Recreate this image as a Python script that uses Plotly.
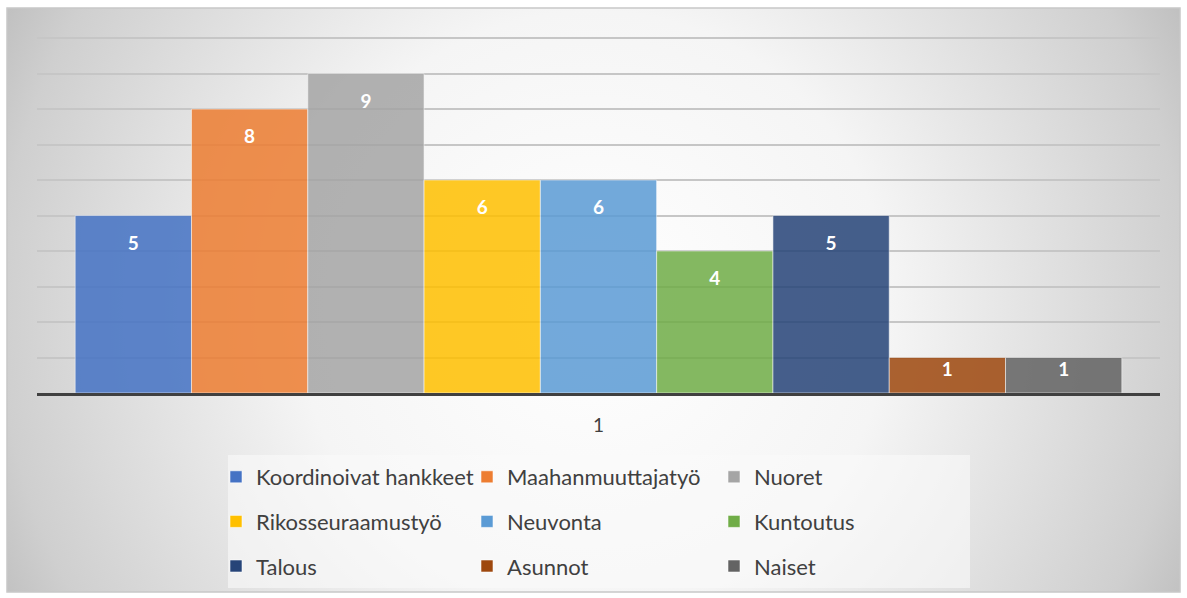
import plotly.graph_objects as go
import urllib.parse

# ---- data ----
category = ["1"]
series_names = ["Koordinoivat hankkeet", "Maahanmuuttajatyö", "Nuoret",
                "Rikosseuraamustyö", "Neuvonta", "Kuntoutus",
                "Talous", "Asunnot", "Naiset"]
series_values = [5, 8, 9, 6, 6, 4, 5, 1, 1]
series_colors = ["#4472C4", "#ED7D31", "#A5A5A5", "#FFC000", "#5B9BD5",
                 "#70AD47", "#264478", "#9E480E", "#636363"]
legend_columns = ["legend", "legend2", "legend3"]

W, H = 1187, 598
ML, MR, MT, MB = 37, 27, 36, 205
PW = W - ML - MR
PH = H - MT - MB
Y_MAX = 10.06

def px_x(x):
    return (x - ML) / PW

def px_y(y):
    return (H - MB - y) / PH

FONT = "Lato, 'Liberation Sans', Arial, sans-serif"
BARGAP = 0.068

fig = go.Figure()
for i, (name, val, col) in enumerate(zip(series_names, series_values, series_colors)):
    fig.add_trace(go.Bar(
        x=category, y=[val], name=name,
        marker=dict(color=col, opacity=0.85,
                    line=dict(color="rgba(255,255,255,0.55)", width=1)),
        legendgroup=name,
        legend=legend_columns[i % 3],
        hoverinfo="name+y",
    ))
for i, (name, val) in enumerate(zip(series_names, series_values)):
    fig.add_trace(go.Scatter(
        x=category, y=[val], mode="markers+text",
        text=[str(val)], textposition="bottom center",
        marker=dict(size=30 if val > 1 else 5, opacity=0, color="white"),
        textfont=dict(color="white", size=19, family=FONT, weight="bold"),
        showlegend=False, legendgroup=name, hoverinfo="skip",
        legend=legend_columns[i % 3],
    ))

# background radial gradient
svg = ('<svg xmlns="http://www.w3.org/2000/svg" width="1173" height="584" '
       'viewBox="0 0 1173 584" preserveAspectRatio="none"><defs>'
       '<radialGradient id="g" cx="586" cy="300" r="660" gradientUnits="userSpaceOnUse">'
       '<stop offset="0" stop-color="#ffffff"/>'
       '<stop offset="0.45" stop-color="#f5f5f5"/>'
       '<stop offset="0.9" stop-color="#cfcfcf"/>'
       '<stop offset="1" stop-color="#c0c0c0"/>'
       '</radialGradient></defs><rect width="1173" height="584" fill="url(#g)"/></svg>')
src = "data:image/svg+xml;charset=utf-8," + urllib.parse.quote(svg)

bx0, bx1, by0, by1 = 7, 1180, 8, 592
fig.add_layout_image(dict(
    source=src, xref="paper", yref="paper",
    x=px_x(bx0), y=px_y(by0), sizex=px_x(bx1) - px_x(bx0), sizey=px_y(by0) - px_y(by1),
    xanchor="left", yanchor="top", sizing="stretch", layer="below",
))

# outer border
fig.add_shape(type="rect", xref="paper", yref="paper",
              x0=px_x(bx0), x1=px_x(bx1), y0=px_y(by1), y1=px_y(by0),
              line=dict(color="#c8c8c8", width=1.5), layer="below")
# legend box
fig.add_shape(type="rect", xref="paper", yref="paper",
              x0=px_x(228), x1=px_x(970), y0=px_y(588), y1=px_y(455),
              fillcolor="rgba(250,250,250,0.6)", line=dict(width=0), layer="below")

leg_common = dict(orientation="v", bgcolor="rgba(0,0,0,0)", borderwidth=0,
                  font=dict(family=FONT, size=22, color="#404040"),
                  tracegroupgap=13, xanchor="left", yanchor="top",
                  y=px_y(456))

fig.update_layout(
    width=W, height=H,
    margin=dict(l=ML, r=MR, t=MT, b=MB, autoexpand=False),
    paper_bgcolor="white",
    plot_bgcolor="rgba(0,0,0,0)",
    barmode="group", bargap=BARGAP, bargroupgap=0,
    scattermode="group", scattergap=BARGAP,
    showlegend=True,
    legend=dict(leg_common, x=px_x(216)),
    legend2=dict(leg_common, x=px_x(467)),
    legend3=dict(leg_common, x=px_x(714)),
    xaxis=dict(type="category", showgrid=False, showline=True,
               linecolor="#404040", linewidth=3, ticks="",
               tickfont=dict(family=FONT, size=19, color="#404040"),
               ticklabelstandoff=13, fixedrange=True),
    yaxis=dict(range=[0, Y_MAX], dtick=1, showticklabels=False,
               showgrid=True, gridcolor="#c6c6c6", gridwidth=1.5,
               zeroline=False, showline=False, fixedrange=True),
    font=dict(family=FONT),
)

fig.write_html("out.html", config={"displayModeBar": False},
               post_script="document.body.style.margin='0px';")
